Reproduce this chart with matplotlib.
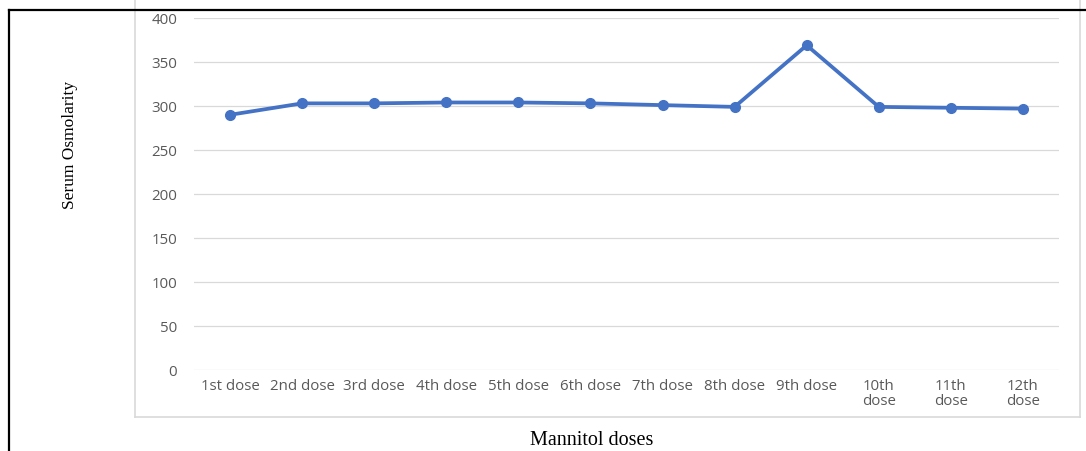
import matplotlib
matplotlib.use('Agg')
import matplotlib.pyplot as plt
from matplotlib.lines import Line2D

doses = ['1st dose', '2nd dose', '3rd dose', '4th dose', '5th dose', '6th dose',
         '7th dose', '8th dose', '9th dose', '10th\ndose', '11th\ndose', '12th\ndose']
osmolarity = [290, 303, 303, 304, 304, 303, 301, 299, 369, 299, 298, 297]
yticks = [0, 50, 100, 150, 200, 250, 300, 350, 400]

fig = plt.figure(figsize=(10.86, 4.52), dpi=100)
ax = fig.add_axes([194/1086, 1 - 371/452, (1059 - 194)/1086, (371 - 19)/452])

ax.plot(range(len(doses)), osmolarity, color='#4472C4', lw=2.7,
        marker='o', markersize=7, solid_capstyle='round')

ax.set_xlim(-0.5, len(doses) - 0.5)
ax.set_ylim(0, 400)
ax.set_yticks(yticks)
ax.set_xticks(range(len(doses)))
ax.set_xticklabels(doses, linespacing=1.0)
ax.grid(axis='y', color='#D9D9D9', lw=0.9)
ax.set_axisbelow(True)
for s in ax.spines.values():
    s.set_visible(False)
ax.tick_params(length=0, labelsize=10.8, labelcolor='#595959')
ax.tick_params(axis='y', pad=12)
ax.tick_params(axis='x', pad=6)
for t in ax.get_xticklabels() + ax.get_yticklabels():
    t.set_family('Open Sans')

# light grey chart box
gc = '#D9D9D9'
x0, x1, yb = 135/1086, 1080/1086, 1 - 418/452
fig.add_artist(Line2D([x0, x0], [yb, 1.0], color=gc, lw=1.2))
fig.add_artist(Line2D([x1, x1], [yb, 1.0], color=gc, lw=1.2))
fig.add_artist(Line2D([x0, x1], [yb, yb], color=gc, lw=1.2))

# black outer frame
yt, xl = 1 - 11/452, 9/1086
fig.add_artist(Line2D([xl, 1.0], [yt, yt], color='black', lw=1.6))
fig.add_artist(Line2D([xl, xl], [0, yt], color='black', lw=1.6))

fig.text(70/1086, 1 - 145/452, 'Serum Osmolarity', rotation=90, family='Liberation Serif',
         fontsize=12.5, ha='center', va='center')
fig.text(592/1086, 1 - 441/452, 'Mannitol doses', family='Liberation Serif',
         fontsize=14.5, ha='center', va='center')

fig.savefig('out.png', dpi=100)
